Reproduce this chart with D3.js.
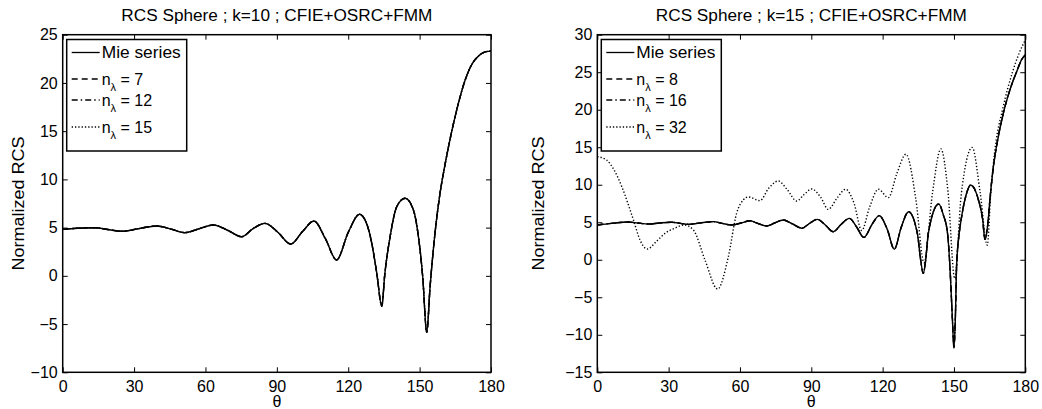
<!DOCTYPE html>
<html>
<head>
<meta charset="utf-8">
<script src="https://cdn.jsdelivr.net/npm/d3@7"></script>
<style>
  body { margin: 0; background: #fff; }
  svg { display: block; font-family: "Liberation Sans", Arial, Helvetica, sans-serif; }
</style>
</head>
<body>
<svg id="chart" width="1042" height="409"></svg>
<script>
// ---------- data ----------
const thetaTicks = [0, 30, 60, 90, 120, 150, 180];
const leftYTicks = [-10, -5, 0, 5, 10, 15, 20, 25];
const rightYTicks = [-15, -10, -5, 0, 5, 10, 15, 20, 25, 30];

const leftTitle = "RCS Sphere ; k=10 ; CFIE+OSRC+FMM";
const rightTitle = "RCS Sphere ; k=15 ; CFIE+OSRC+FMM";

// k=10 : Mie series (the three FMM curves coincide with it)
const leftTheta = [0, 6, 13.6, 19, 24.8, 32, 39.5, 45.5, 51.4, 57.5, 63.3, 69.5, 75.2, 80, 85, 90.5, 95.8, 100.8, 105.6, 110.5, 115.1, 120, 124.7, 127.7, 129.9, 132, 134.1, 135.4, 137.6, 140.4, 143.9, 147.4, 149.5, 151.3, 153, 154.4, 156.5, 158.6, 160.5, 163, 166, 169, 172, 175, 178, 180];
const leftMie   = [4.82, 4.93, 4.99, 4.8, 4.62, 4.9, 5.17, 4.85, 4.48, 4.9, 5.27, 4.7, 4.06, 4.9, 5.44, 4.5, 3.3, 4.6, 5.69, 3.8, 1.64, 4.5, 6.38, 5.44, 3.37, 0.26, -3.13, 0.26, 4.06, 7.17, 8.04, 6.83, 4.06, -0.09, -5.86, -1.12, 4.5, 8.6, 11.3, 14.4, 17.6, 20.2, 21.95, 22.85, 23.25, 23.3];
const leftN7  = leftMie;
const leftN12 = leftMie;
const leftN15 = leftMie;

// k=15 : Mie series (n=8 and n=16 coincide with it)
const rightTheta = [0, 6, 13, 17, 21.5, 26, 31.3, 35, 38.3, 43, 48.8, 52.5, 56.5, 60.5, 64.2, 67.5, 71.2, 74.5, 78.2, 82, 86, 89.5, 92.5, 96, 99.2, 102.5, 106, 109, 112.1, 115.5, 118.6, 122, 124.9, 127.8, 130.9, 134.6, 136, 137.1, 138.1, 139.2, 143.6, 145.5, 147.3, 148.3, 149.3, 150, 150.6, 151.1, 152.2, 153.2, 155, 157, 160.3, 162.1, 163, 164.4, 165.1, 166.5, 168, 171.2, 174, 176.4, 178.5, 180];
const rightMie   = [4.63, 4.85, 5.03, 4.9, 4.77, 4.9, 5.0, 4.85, 4.72, 4.9, 5.08, 4.85, 4.63, 4.9, 5.2, 4.85, 4.5, 4.9, 5.3, 4.8, 4.2, 4.9, 5.39, 4.6, 3.74, 4.7, 5.52, 4.4, 2.98, 4.7, 5.88, 4.0, 1.39, 4.3, 6.41, 3.52, -0.04, -1.82, -0.04, 3.52, 7.44, 6.0, 3.5, -0.9, -7.6, -11.75, -7.6, -0.9, 3.5, 5.7, 8.5, 9.97, 7.97, 5.3, 2.72, 5.3, 7.97, 12.2, 15.3, 20.1, 23.1, 25.1, 26.7, 27.3];
const rightN8  = rightMie;
const rightN16 = rightMie;

// k=15 : n=32
const rightTheta32 = [0, 3.9, 7, 10.3, 15.2, 18, 21, 25, 28.5, 32.5, 36.6, 40.4, 45.3, 50.6, 55.1, 58.6, 61.4, 63.5, 68.4, 72, 76.1, 80, 83.8, 87, 90.2, 94, 97.1, 101, 104.4, 108, 111.2, 114.5, 118.2, 122.4, 126, 129.8, 134, 137.4, 141, 144.5, 147.5, 150.3, 153, 157.7, 161, 164, 165.5, 167.2, 170.5, 174.7, 177.5, 180];
const rightN32     = [13.75, 13.3, 12.0, 9.75, 5.3, 2.6, 1.43, 2.5, 3.52, 4.2, 4.63, 3.97, -0.04, -3.91, 0.4, 6.2, 7.97, 8.37, 7.88, 9.5, 10.5, 9.3, 7.83, 8.7, 9.44, 8.3, 6.72, 8.3, 9.4, 7.5, 3.9, 7.0, 9.4, 8.28, 11.5, 14.07, 8.0, -0.4, 9.0, 14.78, 9.0, -2.5, 8.5, 14.96, 9.0, 1.96, 9.0, 14.6, 20.1, 25.1, 27.6, 29.3];

const dashStyles = { solid: null, dashed: "6,4", dashdot: "6,3,1.5,3", dotted: "1.3,2" };

// ---------- drawing ----------
const svg = d3.select("#chart");

function drawPanel(cfg) {
  const x = d3.scaleLinear().domain([0, 180]).range([cfg.x0, cfg.x1]);
  const y = d3.scaleLinear().domain(cfg.yDomain).range([cfg.y1, cfg.y0]);
  const g = svg.append("g");

  // axes (ticks inside, MATLAB style)
  const axB = g.append("g").attr("transform", `translate(0,${cfg.y1})`)
    .call(d3.axisBottom(x).tickValues(thetaTicks).tickFormat(d3.format("d")).tickSizeInner(-5).tickSizeOuter(0).tickPadding(8));
  const axT = g.append("g").attr("transform", `translate(0,${cfg.y0})`)
    .call(d3.axisTop(x).tickValues(thetaTicks).tickFormat("").tickSizeInner(-5).tickSizeOuter(0));
  const axL = g.append("g").attr("transform", `translate(${cfg.x0},0)`)
    .call(d3.axisLeft(y).tickValues(cfg.yTicks).tickFormat(d3.format("d")).tickSizeInner(-5).tickSizeOuter(0).tickPadding(5));
  const axR = g.append("g").attr("transform", `translate(${cfg.x1},0)`)
    .call(d3.axisRight(y).tickValues(cfg.yTicks).tickFormat("").tickSizeInner(-5).tickSizeOuter(0));
  [axB, axT, axL, axR].forEach(a => {
    a.select(".domain").remove();
    a.selectAll("line").attr("stroke", "#000").attr("stroke-width", 1);
    a.selectAll("text").attr("font-size", 16).attr("fill", "#000")
      .attr("font-family", '"Liberation Sans", Arial, sans-serif');
  });

  // curves
  const clipId = "clip" + cfg.id;
  svg.append("defs").append("clipPath").attr("id", clipId)
    .append("rect").attr("x", cfg.x0).attr("y", cfg.y0).attr("width", cfg.x1 - cfg.x0).attr("height", cfg.y1 - cfg.y0);
  const line = d3.line().x(d => x(d[0])).y(d => y(d[1])).curve(d3.curveMonotoneX);
  cfg.series.forEach(s => {
    const pts = s.theta.map((t, i) => [t, s.values[i]]);
    g.append("path").attr("d", line(pts)).attr("fill", "none")
      .attr("stroke", "#000").attr("stroke-width", 1.4)
      .attr("stroke-dasharray", dashStyles[s.style])
      .attr("clip-path", `url(#${clipId})`);
  });

  // frame
  g.append("rect").attr("x", cfg.x0).attr("y", cfg.y0).attr("width", cfg.x1 - cfg.x0).attr("height", cfg.y1 - cfg.y0)
    .attr("fill", "none").attr("stroke", "#000").attr("stroke-width", 1.5);

  // title
  g.append("text").attr("x", (cfg.x0 + cfg.x1) / 2).attr("y", 21).attr("text-anchor", "middle")
    .attr("font-size", 16).attr("textLength", 311).attr("lengthAdjust", "spacingAndGlyphs").text(cfg.title);
  // x label
  g.append("text").attr("x", (cfg.x0 + cfg.x1) / 2).attr("y", 407).attr("text-anchor", "middle")
    .attr("font-size", 16).text("θ");
  // y label
  g.append("text").attr("transform", `translate(${cfg.ylabX},${(cfg.y0 + cfg.y1) / 2}) rotate(-90)`)
    .attr("text-anchor", "middle").attr("dominant-baseline", "central")
    .attr("font-size", 16).attr("textLength", 134).attr("lengthAdjust", "spacingAndGlyphs").text("Normalized RCS");

  // legend
  const lx = cfg.x0 + 4, ly = 39.5, lw = 120, lh = 111.5;
  const lg = g.append("g");
  lg.append("rect").attr("x", lx).attr("y", ly).attr("width", lw).attr("height", lh)
    .attr("fill", "#fff").attr("stroke", "#000").attr("stroke-width", 1.5);
  const rowY = [52.5, 79, 100, 127];
  cfg.series.forEach((s, i) => {
    const yy = rowY[i];
    lg.append("line").attr("x1", lx + 5).attr("x2", lx + 33).attr("y1", yy).attr("y2", yy)
      .attr("stroke", "#000").attr("stroke-width", 1.3).attr("stroke-dasharray", dashStyles[s.style]);
    const t = lg.append("text").attr("x", lx + 35).attr("y", yy + 5.5).attr("font-size", 16);
    if (s.n === undefined) {
      t.attr("textLength", 79).attr("lengthAdjust", "spacingAndGlyphs").text(s.label);
    } else {
      t.append("tspan").text("n");
      t.append("tspan").attr("font-size", 11).attr("dy", 6).text("λ");
      t.append("tspan").attr("dy", -6).text(" = " + s.n);
    }
  });
}

drawPanel({
  id: "L", x0: 62.7, x1: 491, y0: 34.7, y1: 372.3, yDomain: [-10, 25], yTicks: leftYTicks,
  title: leftTitle, ylabX: 18,
  series: [
    { label: "Mie series", theta: leftTheta, values: leftMie, style: "solid" },
    { n: 7,  theta: leftTheta, values: leftN7,  style: "dashed" },
    { n: 12, theta: leftTheta, values: leftN12, style: "dashdot" },
    { n: 15, theta: leftTheta, values: leftN15, style: "dotted" }
  ]
});

drawPanel({
  id: "R", x0: 597.3, x1: 1025.3, y0: 34.7, y1: 372.3, yDomain: [-15, 30], yTicks: rightYTicks,
  title: rightTitle, ylabX: 538,
  series: [
    { label: "Mie series", theta: rightTheta, values: rightMie, style: "solid" },
    { n: 8,  theta: rightTheta,   values: rightN8,  style: "dashed" },
    { n: 16, theta: rightTheta,   values: rightN16, style: "dashdot" },
    { n: 32, theta: rightTheta32, values: rightN32, style: "dotted" }
  ]
});
</script>
</body>
</html>
